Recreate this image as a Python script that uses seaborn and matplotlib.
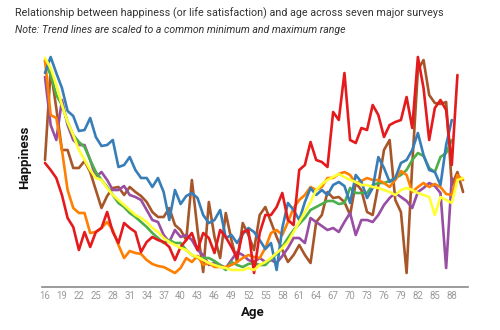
import matplotlib
matplotlib.use("Agg")
import matplotlib.pyplot as plt
import pandas as pd
import seaborn as sns

# Ages covered by the surveys (one point per year of age)
AGES = list(range(16, 91))
TICK_AGES = list(range(16, 89, 3))

# Happiness trend per survey, each rescaled to a common min-max range
red = [117, 110, 102, 85, 62, 53, 30, 48, 33, 48, 52, 68, 48, 37, 57, 52, 48, 28, 38, 43,
       40, 38, 33, 20, 33, 40, 47, 30, 47, 42, 27, 50, 43, 33, 22, 48, 50, 7, 47, 65,
       65, 73, 87, 60, 55, 110, 115, 138, 120, 118, 113, 168, 160, 207, 140, 137, 152, 150, 175, 165,
       143, 155, 158, 160, 183, 152, 223, 192, 140, 172, 180, 170, 115, 205]
blue = [207, 223, 207, 192, 169, 164, 149, 150, 162, 143, 134, 135, 140, 113, 115, 123, 110, 102, 102, 93,
        102, 88, 60, 90, 76, 84, 87, 82, 65, 57, 60, 70, 42, 45, 37, 46, 52, 48, 40, 31,
        37, 10, 52, 77, 70, 60, 78, 92, 85, 90, 85, 95, 98, 94, 77, 105, 98, 82, 92, 123,
        112, 98, 102, 117, 120, 130, 147, 125, 110, 108, 95, 135, 160]
green = [218, 205, 185, 175, 158, 145, 138, 133, 120, 108, 100, 93, 85, 77, 73, 67, 63, 58, 53, 47,
         42, 37, 40, 37, 37, 30, 25, 22, 22, 22, 19, 15, 10, 18, 15, 13, 16, 17, 15, 15,
         21, 26, 33, 42, 50, 56, 62, 70, 73, 76, 79, 79, 76, 77, 92, 87, 87, 87, 95, 97,
         97, 99, 102, 105, 110, 120, 127, 124, 112, 108, 123, 127, 140]
purple = [203, 155, 140, 180, 155, 140, 135, 135, 120, 103, 108, 100, 90, 90, 94, 85, 83, 80, 70, 60,
          58, 45, 38, 50, 43, 45, 40, 30, 25, 15, 17, 15, 12, 20, 28, 25, 20, 18, 22, 18,
          20, 17, 24, 32, 42, 42, 37, 62, 58, 54, 50, 52, 48, 58, 67, 45, 60, 60, 58, 65,
          75, 82, 87, 83, 79, 72, 88, 92, 97, 94, 87, 12, 102]
orange = [220, 165, 162, 130, 90, 72, 67, 67, 47, 48, 52, 58, 50, 35, 22, 29, 27, 26, 20, 16,
          14, 13, 10, 7, 12, 22, 18, 24, 15, 17, 13, 13, 13, 15, 18, 22, 25, 23, 22, 32,
          47, 50, 45, 58, 72, 80, 85, 93, 90, 93, 102, 102, 106, 108, 105, 97, 99, 102, 100, 100,
          97, 93, 100, 109, 105, 88, 93, 97, 93, 96, 93, 86, 85, 105, 100]
yellow = [222, 212, 195, 175, 158, 145, 130, 120, 110, 102, 100, 92, 85, 80, 75, 70, 65, 62, 58, 52,
          48, 42, 38, 35, 32, 30, 25, 23, 20, 17, 15, 13, 12, 10, 10, 10, 12, 10, 15, 18,
          22, 27, 32, 38, 48, 58, 68, 78, 90, 96, 100, 103, 106, 103, 100, 98, 95, 95, 93, 92,
          90, 88, 85, 90, 92, 90, 87, 85, 83, 65, 83, 80, 77, 100, 102]
brown = [120, 210, 172, 130, 130, 112, 112, 119, 108, 90, 72, 84, 92, 93, 85, 93, 88, 84, 78, 68,
         63, 63, 72, 55, 50, 40, 100, 50, 8, 78, 43, 22, 67, 40, 18, 57, 45, 30, 65, 73,
         58, 43, 30, 18, 25, 35, 25, 17, 58, 65, 88, 82, 83, 78, 65, 97, 90, 68, 65, 95,
         130, 140, 80, 68, 7, 115, 210, 220, 185, 177, 176, 178, 95, 108, 88]

series = {
    "red": red, "blue": blue, "green": green, "purple": purple,
    "orange": orange, "yellow": yellow, "brown": brown,
}

df = pd.concat(
    [pd.DataFrame({"age": AGES[:len(v)], "happiness": v, "survey": k})
     for k, v in series.items()],
    ignore_index=True,
)

sns.set_theme(style="white")
plt.rcParams["font.family"] = ["Roboto", "DejaVu Sans"]

palette = dict(zip(series.keys(), sns.color_palette("Set1", 7)))
draw_order = ["brown", "purple", "green", "orange", "blue", "red", "yellow"]

fig = plt.figure(figsize=(5, 3.3), dpi=100)
ax = fig.add_axes([0.084, 0.1303, 0.852, 0.7182])

sns.lineplot(data=df, x="age", y="happiness", hue="survey", hue_order=draw_order,
             palette=palette, estimator=None, linewidth=1.9, legend=False, ax=ax)

ax.set_xlim(15.47, 90.87)
ax.set_ylim(-7, 230)
for side in ("top", "right", "left"):
    ax.spines[side].set_visible(False)
ax.spines["bottom"].set_color("#8a8a8a")
ax.spines["bottom"].set_linewidth(1.2)

ax.set_yticks([])
ax.set_xticks(TICK_AGES)
ax.set_xticklabels([str(a) for a in TICK_AGES])
ax.tick_params(axis="x", length=0, pad=3, labelsize=6.9, labelcolor="#9a9a9a")

ax.set_xlabel("Age", fontsize=9.5, fontweight="bold", color="#111111")
ax.xaxis.set_label_coords(0.495, -0.08)
ax.set_ylabel("Happiness", fontsize=9.5, fontweight="bold", color="#111111")
ax.yaxis.set_label_coords(-0.026, 0.549)

fig.text(15 / 500, 1 - 13 / 330,
         "Relationship between happiness (or life satisfaction) and age across seven major surveys",
         fontsize=7.75, color="#333333", ha="left", va="center")
fig.text(15 / 500, 1 - 30 / 330,
         "Note: Trend lines are scaled to a common minimum and maximum range",
         fontsize=7.55, color="#333333", style="italic", ha="left", va="center")

fig.savefig("out.png", dpi=100, facecolor="white")
